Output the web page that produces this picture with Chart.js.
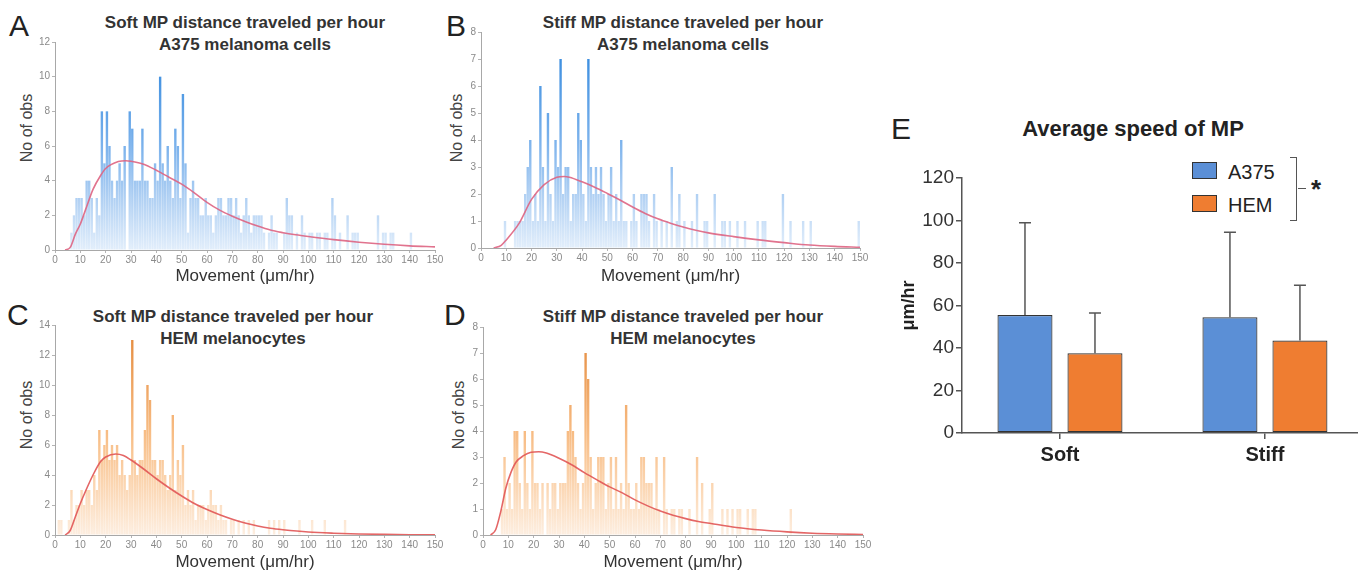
<!DOCTYPE html>
<html><head><meta charset="utf-8">
<script src="https://cdn.jsdelivr.net/npm/chart.js@4/dist/chart.umd.min.js"></script>
<style>
html,body{margin:0;padding:0;background:#fff;overflow:hidden;width:1358px;height:576px;font-family:"Liberation Sans",Arial,sans-serif;}
canvas{position:absolute;}
.letter{position:absolute;font-size:30px;color:#222;line-height:1;}
.ttl{position:absolute;font-weight:bold;font-size:17px;color:#333;text-align:center;line-height:22px;white-space:nowrap;transform:translateX(-50%);}
.ytl{position:absolute;font-size:16px;color:#444;white-space:nowrap;transform:translate(-50%,-50%) rotate(-90deg);}
.lg{position:absolute;font-size:20px;color:#222;line-height:1;transform:translateY(-50%);}
.box{position:absolute;border:1px solid #333;box-sizing:border-box;}
</style></head><body>

<div class="letter" style="left:9px;top:11px;">A</div>
<div class="letter" style="left:446px;top:11px;">B</div>
<div class="letter" style="left:7px;top:300px;">C</div>
<div class="letter" style="left:444px;top:300px;">D</div>
<div class="letter" style="left:891px;top:114px;">E</div>

<div class="ttl" style="left:245px;top:12px;">Soft MP distance traveled per hour<br>A375 melanoma cells</div>
<div class="ttl" style="left:683px;top:12px;">Stiff MP distance traveled per hour<br>A375 melanoma cells</div>
<div class="ttl" style="left:233px;top:306px;">Soft MP distance traveled per hour<br>HEM melanocytes</div>
<div class="ttl" style="left:683px;top:306px;">Stiff MP distance traveled per hour<br>HEM melanocytes</div>

<div class="ytl" style="left:27px;top:128px;">No of obs</div>
<div class="ytl" style="left:457px;top:128px;">No of obs</div>
<div class="ytl" style="left:27px;top:415px;">No of obs</div>
<div class="ytl" style="left:459px;top:415px;">No of obs</div>

<div style="position:absolute;left:1133px;top:116px;transform:translateX(-50%);font-weight:bold;font-size:22px;color:#222;white-space:nowrap;">Average speed of MP</div>

<div class="box" style="left:1192px;top:162px;width:25px;height:17px;background:#5b8fd6;"></div>
<div class="lg" style="left:1228px;top:172px;">A375</div>
<div class="box" style="left:1192px;top:195px;width:25px;height:17px;background:#ef7d31;"></div>
<div class="lg" style="left:1228px;top:205px;">HEM</div>
<div style="position:absolute;left:1290px;top:157px;width:6px;height:62px;border:1.5px solid #555;border-left:none;"></div>
<div style="position:absolute;left:1298px;top:188px;width:8px;height:0;border-top:1.5px solid #555;"></div>
<div style="position:absolute;left:1311px;top:176px;font-weight:bold;font-size:26px;color:#222;line-height:1;">*</div>

<canvas id="cA" width="445" height="290" style="left:0;top:0;"></canvas>
<canvas id="cB" width="430" height="290" style="left:440px;top:0;"></canvas>
<canvas id="cC" width="445" height="286" style="left:0;top:290px;"></canvas>
<canvas id="cD" width="433" height="286" style="left:440px;top:290px;"></canvas>
<canvas id="cE" width="478" height="390" style="left:880px;top:90px;"></canvas>

<script>
// ---------- data ----------
const binStart = 0;
const binWidth = 1;
const movementMax = 150;

const softA375Counts = [
0,0,0,0,0,0,1,2,3,3,
3,2,4,4,3,1,3,2,8,5,
8,6,4,3,4,5,4,6,0,8,
7,4,4,4,7,4,4,3,3,5,
4,10,5,4,6,4,3,7,6,3,
9,5,1,3,4,3,3,2,2,3,
2,2,1,2,3,3,2,2,3,3,
2,3,2,1,2,3,2,1,2,2,
2,2,1,0,1,2,1,1,0,0,
1,3,2,2,0,1,0,2,1,0,
1,1,0,1,1,0,1,1,0,3,
2,0,1,0,0,2,0,1,1,1,
0,0,0,0,0,0,0,2,0,1,
1,0,1,1,0,0,0,0,0,0,
1,0,0,0,0,0,0,0,0,0];

const stiffA375Counts = [
0,0,0,0,0,0,0,0,0,1,
0,0,0,1,1,1,1,2,3,4,
1,2,1,6,3,1,5,2,1,4,
3,7,2,3,3,1,2,2,5,4,
2,1,7,3,2,3,2,3,2,1,
2,3,1,2,1,4,1,1,0,1,
2,1,0,2,2,2,1,0,2,1,
0,1,0,1,0,3,0,1,2,0,
1,0,0,1,0,2,0,0,1,1,
0,0,2,0,0,1,1,0,1,0,
0,1,0,0,1,0,0,0,0,1,
0,1,1,0,0,0,0,0,0,2,
0,0,1,0,0,0,0,1,0,0,
1,0,0,0,0,0,0,0,0,0,
0,0,0,0,0,0,0,0,0,1];

const softHemCounts = [
0,1,1,0,0,1,3,1,2,2,
3,2,3,3,2,4,3,7,5,6,
7,5,6,5,6,4,5,4,3,4,
13,5,4,5,5,7,10,9,5,5,
4,5,5,4,3,4,8,3,5,4,
6,2,3,2,3,1,2,2,2,1,
2,3,2,2,1,2,1,1,0,1,
1,0,1,0,1,0,1,0,1,0,
0,0,0,0,1,0,1,0,1,0,
1,0,0,0,0,0,1,0,0,0,
0,1,0,0,0,0,1,0,0,0,
0,0,0,0,1,0,0,0,0,0,
0,0,0,0,0,0,0,0,0,0,
0,0,0,0,0,0,0,0,0,0,
0,0,0,0,0,0,0,0,0,0];

const stiffHemCounts = [
0,0,0,0,0,0,0,1,3,1,
2,1,4,4,2,1,4,2,1,4,
2,2,1,2,0,2,1,2,2,1,
2,2,2,4,5,4,3,2,1,2,
7,6,3,1,2,3,3,3,1,2,
3,1,3,1,2,1,5,2,1,1,
2,1,3,3,2,2,2,1,3,1,
0,3,1,0,1,1,0,1,1,0,
0,1,0,0,3,0,2,0,0,1,
2,0,0,0,1,0,1,0,1,0,
1,1,0,0,1,0,1,1,0,0,
0,0,0,0,0,0,0,0,0,0,
0,1,0,0,0,0,0,0,0,0,
0,0,0,0,0,0,0,0,0,0,
0,0,0,0,0,0,0,0,0,0];

// fitted distribution curves
const softA375FitX = [4,6,8,10,12,15,18,20,25,28,30,35,40,45,50,55,60,65,70,75,80,85,90,95,100,110,120,130,140,150];
const softA375FitY = [0,0.15,0.9,1.5,2.3,3.5,4.3,4.7,5.1,5.15,5.12,4.95,4.6,4.2,3.8,3.3,2.75,2.3,1.95,1.65,1.38,1.15,1.0,0.88,0.78,0.6,0.45,0.33,0.24,0.18];
const stiffA375FitX = [5,8,10,15,20,25,30,33,35,40,45,50,55,60,65,70,75,80,85,90,100,110,120,130,140,150];
const stiffA375FitY = [0,0.1,0.3,0.9,1.8,2.35,2.62,2.65,2.62,2.45,2.25,2.02,1.78,1.52,1.28,1.08,0.92,0.78,0.66,0.56,0.42,0.3,0.2,0.11,0.06,0.03];
const softHemFitX = [4,6,8,10,12,15,18,20,24,27,30,35,40,45,50,55,60,65,70,75,80,85,90,100,110,120,130,140,150];
const softHemFitY = [0,0.3,1.2,2.1,2.9,4.0,4.9,5.2,5.4,5.3,5.0,4.4,3.75,3.15,2.6,2.1,1.7,1.35,1.05,0.8,0.6,0.45,0.35,0.2,0.12,0.07,0.04,0.02,0.01];
const stiffHemFitX = [3,5,7,9,11,13,16,19,22,25,30,35,40,45,50,55,60,65,70,75,80,85,90,100,110,120,130,140,150];
const stiffHemFitY = [0,0.2,0.9,1.8,2.4,2.8,3.05,3.18,3.2,3.15,2.95,2.7,2.4,2.12,1.85,1.62,1.35,1.12,0.92,0.76,0.63,0.52,0.44,0.29,0.19,0.12,0.07,0.04,0.02];

// panel E
const speedCategories = ['Soft', 'Stiff'];
const speedA375 = [55.5, 54.5];
const speedA375Sd = [43.5, 40];
const speedHem = [37.5, 43.5];
const speedHemSd = [19, 26];

// ---------- styles ----------
const FONT = '"Liberation Sans", Arial, sans-serif';
Chart.defaults.font.family = FONT;
const blueStops = [[0,'#e2eefb'],[0.25,'#b0d0f3'],[0.5,'#7bb2ec'],[1,'#2a84dc']];
const orangeStops = [[0,'#fdeee0'],[0.25,'#fbd5b0'],[0.5,'#f7bb82'],[1,'#e3883a']];

function vGradient(chart, stops) {
  const ca = chart.chartArea;
  if (!ca) return stops[1][1];
  const g = chart.ctx.createLinearGradient(0, ca.bottom, 0, ca.top);
  stops.forEach(s => g.addColorStop(s[0], s[1]));
  return g;
}

function histChart(id, counts, fitX, fitY, yMax, yStep, stops, lineColor, lay) {
  const barData = counts.map((c, i) => ({x: binStart + i * binWidth + binWidth / 2, y: c}));
  const fitData = fitX.map((x, i) => ({x: x, y: fitY[i]}));
  const axisGrid = {display: true, drawOnChartArea: false, tickLength: 3, color: '#b4b4b4', offset: false};
  return new Chart(document.getElementById(id), {
    type: 'bar',
    data: {datasets: [
      {type: 'line', data: fitData, borderColor: lineColor, borderWidth: 1.6, pointRadius: 0,
       cubicInterpolationMode: 'monotone', fill: false, order: 0},
      {type: 'bar', data: barData, backgroundColor: ctx => vGradient(ctx.chart, stops),
       barPercentage: 0.95, categoryPercentage: 1, order: 1}
    ]},
    options: {
      responsive: false, animation: false, events: [],
      layout: {padding: {top: lay.top, right: lay.right, left: 0, bottom: 0}},
      plugins: {legend: {display: false}, tooltip: {enabled: false}},
      scales: {
        x: {type: 'linear', offset: false, min: 0, max: movementMax,
            ticks: {stepSize: 10, font: {size: 10}, color: '#8a8a8a', padding: 1, maxRotation: 0, autoSkip: false},
            grid: axisGrid, border: {color: '#a8a8a8'},
            title: {display: true, text: 'Movement (μm/hr)', font: {size: 17}, color: '#333', padding: {top: 0, bottom: lay.tb}},
            afterFit: s => { s.height = lay.xh; }},
        y: {min: 0, max: yMax,
            ticks: {stepSize: yStep, font: {size: 10}, color: '#8a8a8a', padding: 2},
            grid: axisGrid, border: {color: '#a8a8a8'},
            afterFit: s => { s.width = lay.yw; }}
      }
    }
  });
}

histChart('cA', softA375Counts, softA375FitX, softA375FitY, 12, 2, blueStops, 'rgba(222,100,130,0.9)', {top: 42, right: 10, yw: 55, xh: 40, tb: 3});
histChart('cB', stiffA375Counts, stiffA375FitX, stiffA375FitY, 8, 1, blueStops, 'rgba(222,100,130,0.9)', {top: 32, right: 10, yw: 41, xh: 42, tb: 3});
histChart('cC', softHemCounts, softHemFitX, softHemFitY, 14, 2, orangeStops, 'rgba(225,85,85,0.9)', {top: 35, right: 10, yw: 55, xh: 41, tb: 3});
histChart('cD', stiffHemCounts, stiffHemFitX, stiffHemFitY, 8, 1, orangeStops, 'rgba(225,85,85,0.9)', {top: 37, right: 10, yw: 43, xh: 41, tb: 3});

// ---------- panel E ----------
const speedErrors = [speedA375Sd, speedHemSd];
const errorBars = {
  id: 'errorBars',
  afterDatasetsDraw(chart) {
    const ctx = chart.ctx, ys = chart.scales.y;
    chart.data.datasets.forEach((ds, di) => {
      const meta = chart.getDatasetMeta(di);
      meta.data.forEach((el, i) => {
        const top = ys.getPixelForValue(ds.data[i].y + speedErrors[di][i]);
        ctx.save();
        ctx.strokeStyle = '#555'; ctx.lineWidth = 1.5;
        ctx.beginPath();
        ctx.moveTo(el.x, el.y); ctx.lineTo(el.x, top);
        ctx.moveTo(el.x - 6, top); ctx.lineTo(el.x + 6, top);
        ctx.stroke();
        ctx.restore();
      });
    });
  }
};

new Chart(document.getElementById('cE'), {
  type: 'bar',
  data: {datasets: [
    {label: 'A375', data: speedA375.map((v, i) => ({x: i, y: v})), backgroundColor: '#5b8fd6',
     borderColor: '#333', borderWidth: 1.2, borderSkipped: false, barPercentage: 0.786, categoryPercentage: 0.683},
    {label: 'HEM', data: speedHem.map((v, i) => ({x: i, y: v})), backgroundColor: '#ef7d31',
     borderColor: '#333', borderWidth: 1.2, borderSkipped: false, barPercentage: 0.786, categoryPercentage: 0.683}
  ]},
  options: {
    responsive: false, animation: false, events: [],
    layout: {padding: {top: 88, right: 0, left: 0, bottom: 0}},
    plugins: {legend: {display: false}, tooltip: {enabled: false}},
    scales: {
      x: {type: 'linear', offset: false, min: -0.478, max: 1.454,
          afterBuildTicks: s => { s.ticks = speedCategories.map((c, i) => ({value: i})); },
          ticks: {callback: v => speedCategories[v], font: {size: 20, weight: 'bold'}, color: '#222', padding: 4, maxRotation: 0, autoSkip: false},
          grid: {display: true, drawOnChartArea: false, tickLength: 6, color: '#555', lineWidth: 1.5, offset: false},
          border: {color: '#555', width: 1.5},
          afterFit: s => { s.height = 47; }},
      y: {min: 0, max: 120,
          ticks: {stepSize: 20, font: {size: 19}, color: '#333', padding: 2},
          grid: {display: true, drawOnChartArea: false, tickLength: 6, color: '#555', lineWidth: 1.5},
          border: {color: '#555', width: 1.5},
          title: {display: true, text: 'μm/hr', font: {size: 18, weight: 'bold'}, color: '#222', padding: {top: 18, bottom: 0}},
          afterFit: s => { s.width = 82; }}
    }
  },
  plugins: [errorBars]
});
</script>
</body></html>
